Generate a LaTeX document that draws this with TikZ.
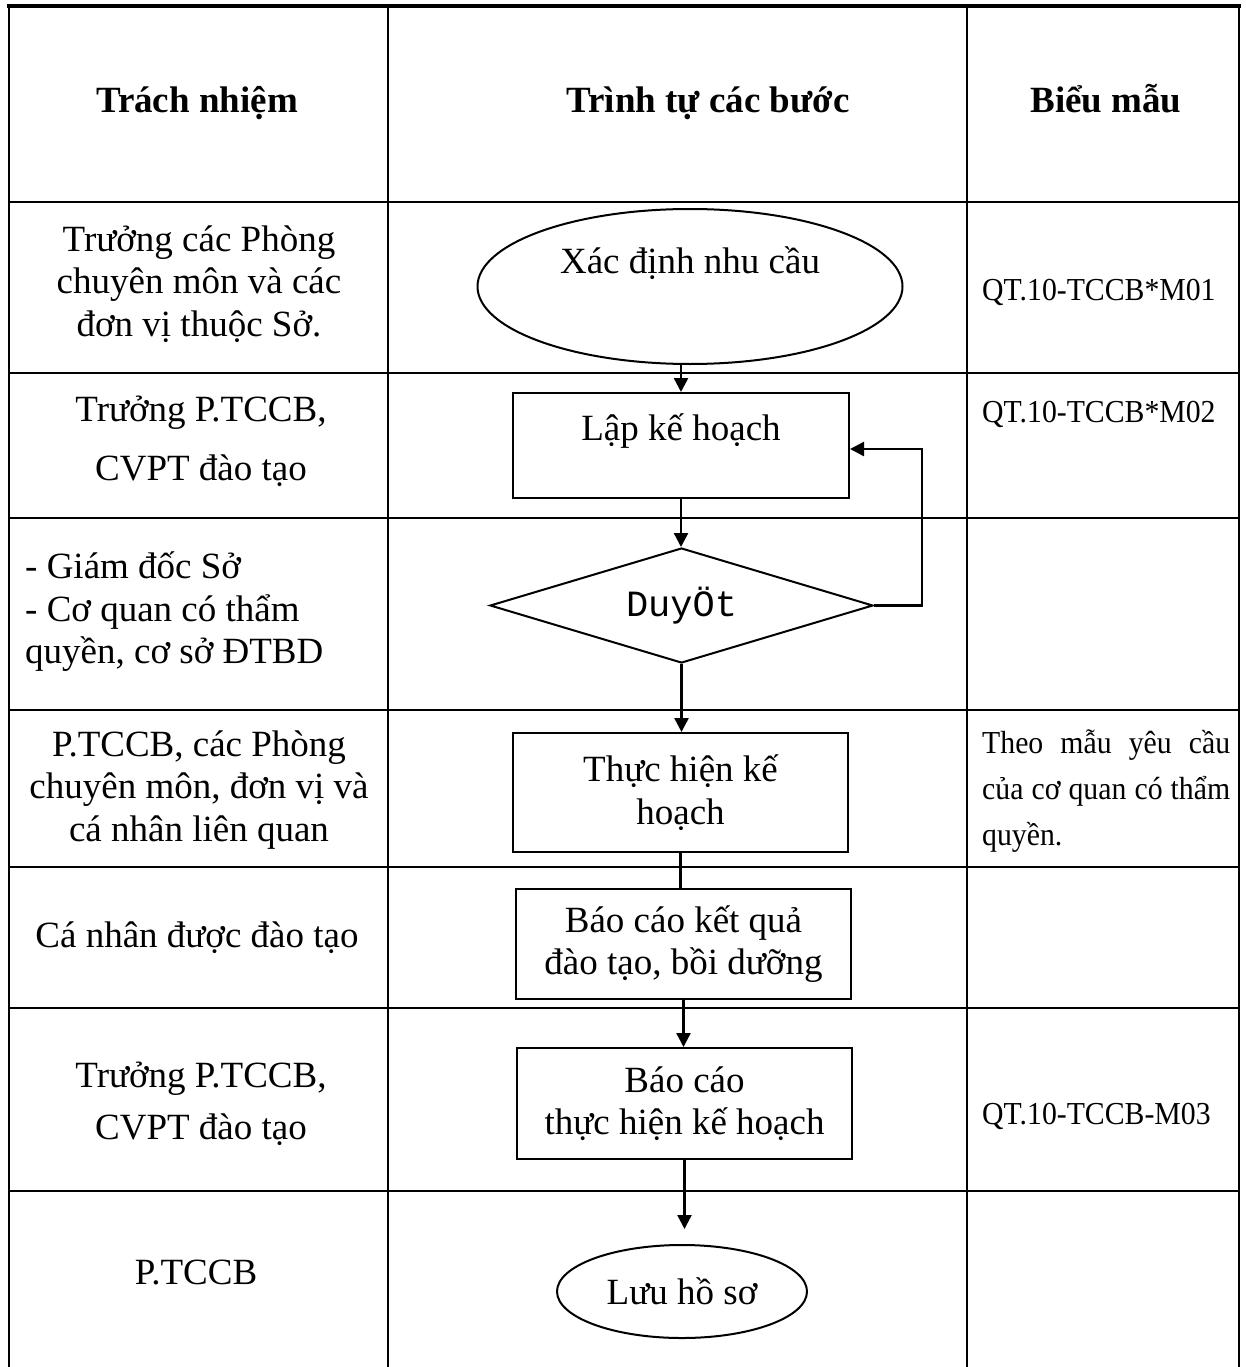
\documentclass[tikz,border=0pt]{standalone}
\usepackage{fontspec}
\setmainfont{Liberation Serif}
\setmonofont{Liberation Mono}
\newfontfamily\narrowfont[FakeStretch=0.93]{Liberation Serif}
\usetikzlibrary{arrows.meta, shapes.geometric}
\tikzset{
  celltext/.style = {align=center, inner sep=0pt,
    font=\fontsize{37}{42.5}\selectfont},
  headtext/.style = {anchor=base, inner sep=0pt,
    font=\bfseries\fontsize{37}{42.5}\selectfont},
  formtext/.style = {anchor=base west, inner sep=0pt,
    font=\narrowfont\fontsize{32}{46}\selectfont},
  stepbox/.style = {draw, rectangle, line width=2pt, inner sep=0pt,
    minimum width=335pt, align=center, font=\fontsize{37}{42.5}\selectfont},
  termnode/.style = {draw, ellipse, line width=2pt, inner sep=0pt,
    font=\fontsize{37}{42.5}\selectfont},
  decide/.style = {draw, diamond, line width=2pt, inner sep=0pt,
    shape aspect=3.3, font=\ttfamily\fontsize{37}{42.5}\selectfont},
  gridline/.style = {line width=2.7pt},
  flow/.style = {line width=2.4pt}
}
\begin{document}
\begin{tikzpicture}[x=1pt, y=-1pt, >={Triangle[length=14pt,width=14pt]}]
\useasboundingbox (0,0) rectangle (1246,1367);

% table
\draw[line width=4pt] (7,6) -- (1241,6);
\foreach \x in {9,388,967,1239}
  \draw[gridline] (\x,6) -- (\x,1367);
\foreach \y in {202,373,518,710,867,1008,1191}
  \draw[gridline] (9,\y) -- (1239,\y);

% header
\node[headtext] (h1) at (197,113) {Trách nhiệm};
\node[headtext] (h2) at (708,113) {Trình tự các bước};
\node[headtext] (h3) at (1106,113) {Biểu mẫu};

% who
\node[celltext] (r1) at (199,284) {Trưởng các Phòng\\chuyên môn và các\\đơn vị thuộc Sở.};
\node[celltext] (r2) at (201,441) {Trưởng P.TCCB,\\[16.5pt]CVPT đào tạo};
\node[celltext, align=left, anchor=west] (r3) at (25,612) {- Giám đốc Sở\\- Cơ quan có thẩm\\quyền, cơ sở ĐTBD};
\node[celltext] (r4) at (199,790) {P.TCCB, các Phòng\\chuyên môn, đơn vị và\\cá nhân liên quan};
\node[celltext] (r5) at (197,938) {Cá nhân được đào tạo};
\node[celltext] (r6) at (201,1104) {Trưởng P.TCCB,\\[9.5pt]CVPT đào tạo};
\node[celltext] (r7) at (196,1272) {P.TCCB};

% steps
\node[termnode, minimum width=425pt, minimum height=155pt,
  text height=22pt, text depth=48pt] (need) at (690,286.5) {Xác định nhu cầu};
\node[stepbox, minimum width=336pt, minimum height=105pt,
  text height=22pt, text depth=33pt] (plan) at (681,445.5) {Lập kế hoạch};
\node[decide, minimum width=383pt, minimum height=115pt] (approve) at (681.5,605.5) {DuyÖt};
\node[stepbox, minimum height=119pt] (exec) at (680.5,792.5) {Thực hiện kế\\hoạch};
\node[stepbox, minimum height=110pt] (result) at (683.5,944) {Báo cáo kết quả\\đào tạo, bồi dưỡng};
\node[stepbox, minimum height=111pt] (report) at (684.5,1103.5) {Báo cáo\\thực hiện kế hoạch};
\node[termnode, minimum width=250pt, minimum height=93pt] (store) at (682,1291.5) {Lưu hồ sơ};

\draw[flow, ->] (need.south -| plan.north) -- (plan.north);
\draw[flow, ->] (plan.south) -- (plan.south |- approve.north);
\draw[flow, ->] (approve.south) -- (approve.south |- exec.north);
\draw[flow] (exec.south) -- (exec.south |- result.north);
\draw[flow, ->] (result.south) -- (result.south |- report.north);
\draw[flow, ->, shorten >=15pt] (report.south) -- (report.south |- store.north);
\draw[flow, ->] (approve.east) -- ++(48,0) |- ([yshift=-3.5pt]plan.east);

% forms
\node[formtext] (f1) at (982,300) {QT.10-TCCB*M01};
\node[formtext] (f2) at (982,422) {QT.10-TCCB*M02};
\node[formtext, anchor=north west, text width=248pt, align=justify] (f3) at (982,730)
  {Theo mẫu yêu cầu\linebreak của cơ quan có thẩm\linebreak quyền.};
\node[formtext] (f4) at (982,1124) {QT.10-TCCB-M03};
\end{tikzpicture}
\end{document}
